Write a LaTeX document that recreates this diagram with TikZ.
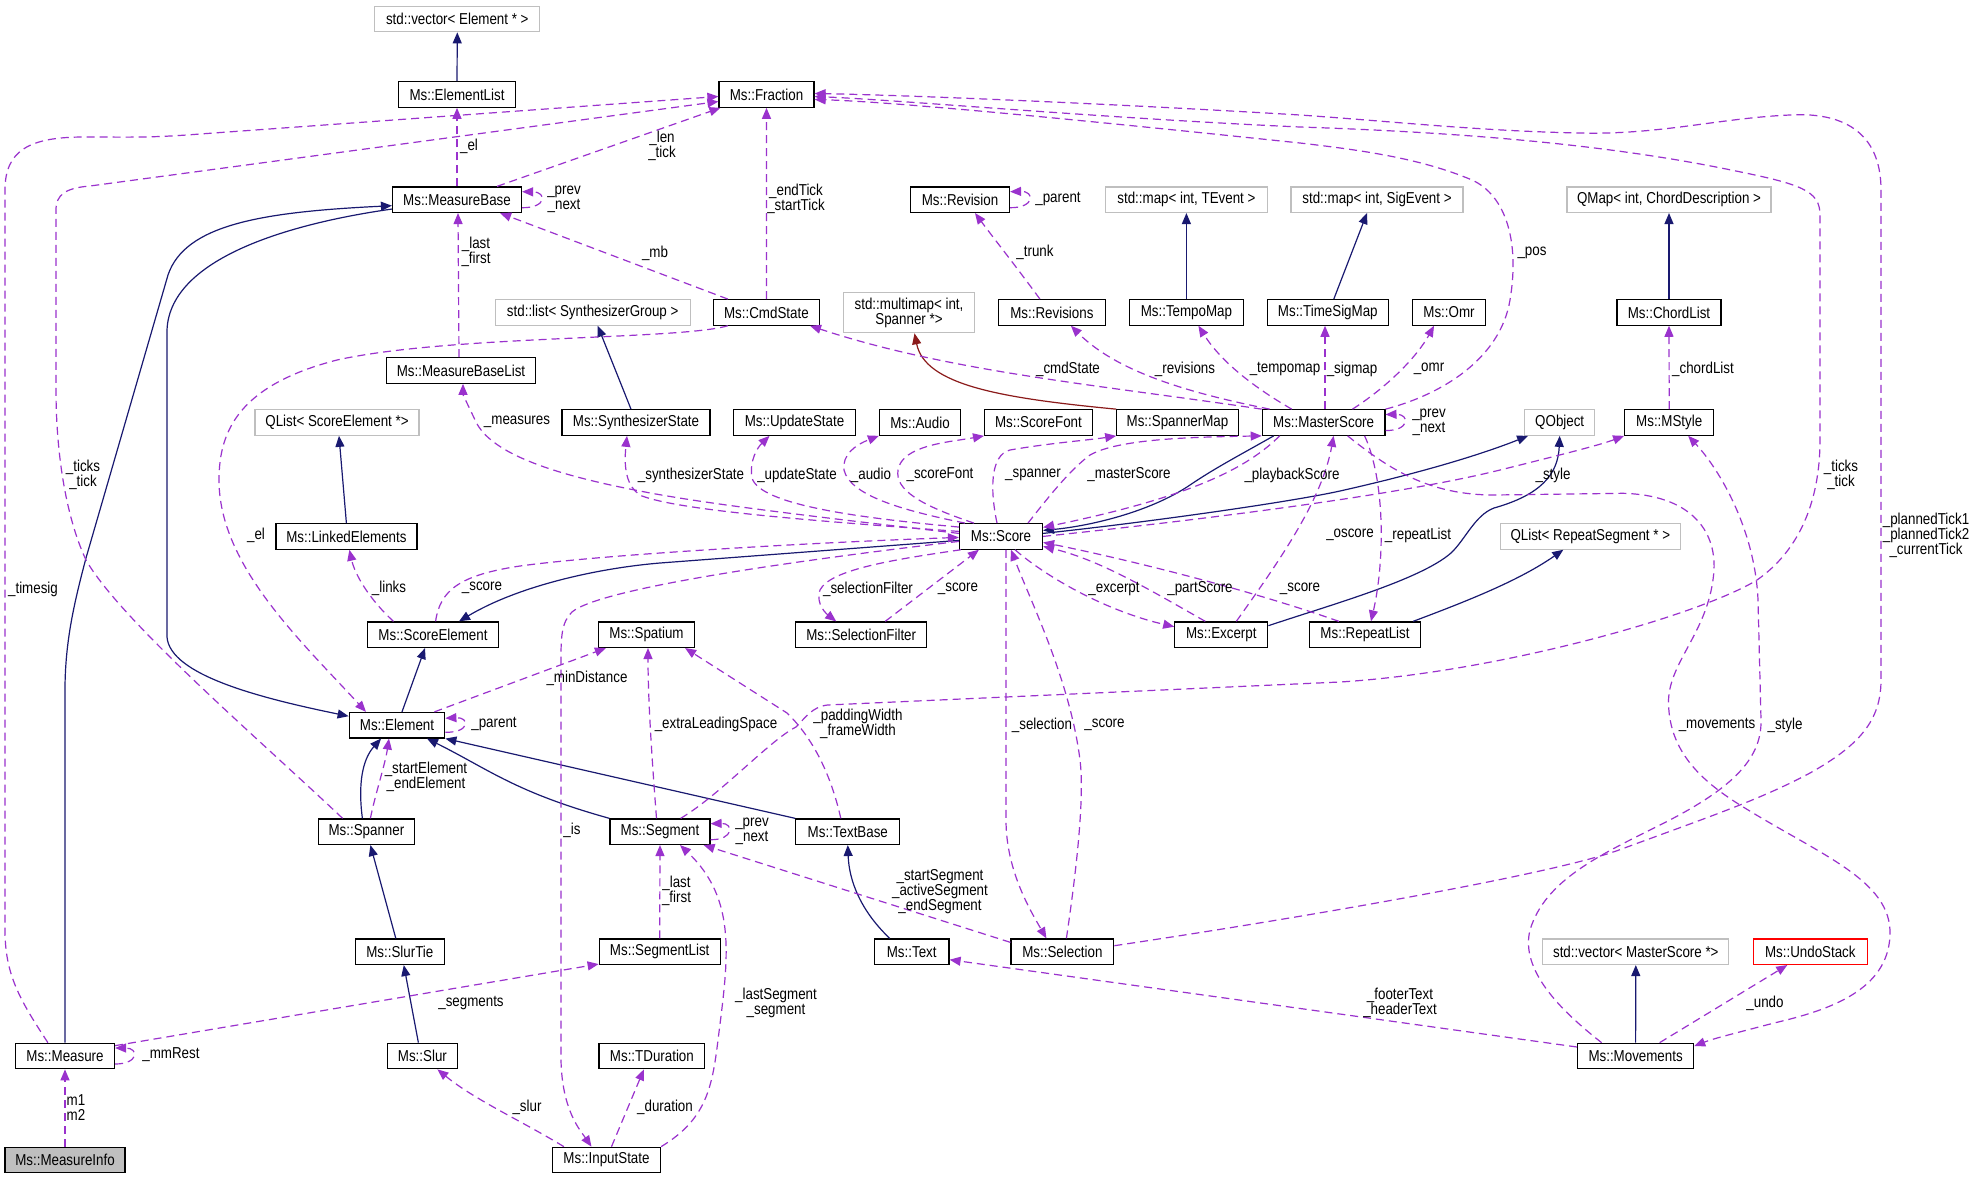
\documentclass[tikz,border=0pt]{standalone}
\usepackage{fontspec}
\setmainfont{Liberation Sans}[FakeStretch=0.845]
\usetikzlibrary{arrows.meta,calc}
\definecolor{navy}{HTML}{191970}
\definecolor{orch}{HTML}{9A32CD}
\definecolor{fbrick}{HTML}{8B1A1A}
\definecolor{ggray}{HTML}{BFBFBF}
\tikzset{
  cls/.style={draw=black,line width=1.2pt,minimum height=25.5,inner sep=0pt,font=\fontsize{15.8}{15}\selectfont,fill=white},
  ext/.style={cls,draw=ggray},
  lbl/.style={inner sep=0pt,align=center,font=\fontsize{15.8}{15}\selectfont},
  inh/.style={draw=navy,line width=1.2pt,-{Triangle[length=11pt,width=9pt]},fill=none},
  dkred/.style={draw=fbrick,line width=1.2pt,-{Triangle[length=11pt,width=9pt]}},
  use/.style={draw=orch,line width=1.2pt,dash pattern=on 8pt off 5pt,-{Triangle[length=11pt,width=9pt,fill=orch]}},
}
\begin{document}
\begin{tikzpicture}[x=1pt,y=-1pt]
\useasboundingbox[fill=white] (0,0) rectangle (1976,1179);
% nodes
\node[ext,minimum width=165] (vecElem) at (457.3,19) {std::vector< Element * >};
\node[cls,minimum width=117] (ElementList) at (457,94.5) {Ms::ElementList};
\node[cls,minimum width=95] (Fraction) at (766.5,94.5) {Ms::Fraction};
\node[cls,minimum width=129] (MeasureBase) at (457,199.7) {Ms::MeasureBase};
\node[cls,minimum width=99] (Revision) at (960,199.7) {Ms::Revision};
\node[ext,minimum width=161.6] (mapTEvent) at (1186.4,199.7) {std::map< int, TEvent >};
\node[ext,minimum width=172] (mapSigEvent) at (1377,199.7) {std::map< int, SigEvent >};
\node[ext,minimum width=204] (QMap) at (1669,199.7) {QMap< int, ChordDescription >};
\node[ext,minimum width=195] (listSynth) at (592.7,312.4) {std::list< SynthesizerGroup >};
\node[cls,minimum width=106] (CmdState) at (766.4,312.4) {Ms::CmdState};
\node[ext,minimum width=131,minimum height=40,align=center,font=\fontsize{15.8}{14}\selectfont] (multimap) at (909,312.7) {std::multimap< int,\\ Spanner *>};
\node[cls,minimum width=106.7] (Revisions) at (1051.9,312.4) {Ms::Revisions};
\node[cls,minimum width=113.4] (TempoMap) at (1186.4,312.4) {Ms::TempoMap};
\node[cls,minimum width=121] (TimeSigMap) at (1327.8,312.4) {Ms::TimeSigMap};
\node[cls,minimum width=73] (Omr) at (1449,312.4) {Ms::Omr};
\node[cls,minimum width=104] (ChordList) at (1669,312.4) {Ms::ChordList};
\node[cls,minimum width=149.4] (MeasureBaseList) at (461,370.5) {Ms::MeasureBaseList};
\node[ext,minimum width=164] (QListSE) at (337,422.5) {QList< ScoreElement *>};
\node[cls,minimum width=148] (SynthState) at (636,422.5) {Ms::SynthesizerState};
\node[cls,minimum width=121.4] (UpdateState) at (794.5,422.5) {Ms::UpdateState};
\node[cls,minimum width=81] (Audio) at (920,422.5) {Ms::Audio};
\node[cls,minimum width=107.6] (ScoreFont) at (1038.4,422.5) {Ms::ScoreFont};
\node[cls,minimum width=121.4] (SpannerMap) at (1177.5,422.5) {Ms::SpannerMap};
\node[cls,minimum width=122.6] (MasterScore) at (1323.6,422.5) {Ms::MasterScore};
\node[ext,minimum width=70] (QObject) at (1559.7,422.5) {QObject};
\node[cls,minimum width=89] (MStyle) at (1669.2,422.5) {Ms::MStyle};
\node[cls,minimum width=141] (LinkedElements) at (346.4,536.4) {Ms::LinkedElements};
\node[cls,minimum width=83] (Score) at (1001,536.4) {Ms::Score};
\node[ext,minimum width=180] (QListRS) at (1590.3,536.4) {QList< RepeatSegment * >};
\node[cls,minimum width=130.5] (ScoreElement) at (433,634.7) {Ms::ScoreElement};
\node[cls,minimum width=96] (Spatium) at (646.5,634.7) {Ms::Spatium};
\node[cls,minimum width=131] (SelectionFilter) at (861.2,634.7) {Ms::SelectionFilter};
\node[cls,minimum width=93] (Excerpt) at (1221.3,634.7) {Ms::Excerpt};
\node[cls,minimum width=111] (RepeatList) at (1365,634.7) {Ms::RepeatList};
\node[cls,minimum width=95.6] (Element) at (397,725.2) {Ms::Element};
\node[cls,minimum width=96.4] (Spanner) at (366.4,831.7) {Ms::Spanner};
\node[cls,minimum width=100] (Segment) at (660,831.7) {Ms::Segment};
\node[cls,minimum width=104] (TextBase) at (847.8,831.7) {Ms::TextBase};
\node[cls,minimum width=89] (SlurTie) at (399.8,951.7) {Ms::SlurTie};
\node[cls,minimum width=121] (SegmentList) at (659.7,951.7) {Ms::SegmentList};
\node[cls,minimum width=74.6] (Text) at (911.7,951.7) {Ms::Text};
\node[cls,minimum width=102.7] (Selection) at (1062.4,951.7) {Ms::Selection};
\node[ext,minimum width=186] (vecMS) at (1635.8,951.7) {std::vector< MasterScore *>};
\node[cls,draw=red,minimum width=114] (UndoStack) at (1810.3,951.7) {Ms::UndoStack};
\node[cls,minimum width=99] (Measure) at (65,1056) {Ms::Measure};
\node[cls,minimum width=70] (Slur) at (422.4,1056) {Ms::Slur};
\node[cls,minimum width=105.7] (TDuration) at (651.9,1056) {Ms::TDuration};
\node[cls,minimum width=116] (Movements) at (1635.6,1056) {Ms::Movements};
\node[cls,fill=ggray,minimum width=120] (MeasureInfo) at (65,1160) {Ms::MeasureInfo};
\node[cls,minimum width=108] (InputState) at (606.5,1160) {Ms::InputState};

% inheritance
\draw[inh] (ElementList.north) -- (vecElem.south);
\draw[inh] (Measure.north) -- (65,690) .. controls (65,640) and (75,600) .. (86,558) -- (168,275) .. controls (185,225) and (260,212) .. ($(MeasureBase.west)+(0,6)$);
\draw[inh] ($(MeasureBase.south west)+(0,-4)$) .. controls (300,222) and (170,255) .. (167,330) -- (167,637) .. controls (170,675) and (260,698) .. ($(Element.west)+(0,-9)$);
\draw[inh] ($(Element.north)+(5,0)$) -- ($(ScoreElement.south)+(-8,0)$);
\draw[inh] ($(Score.west)+(0,4)$) -- (660,563) .. controls (600,568) and (520,585) .. ($(ScoreElement.north)+(26,0)$);
\draw[inh] ($(MasterScore.south west)+(12,0)$) .. controls (1240,455) and (1215,468) .. (1190,485) .. controls (1150,512) and (1090,526) .. ($(Score.east)+(0,-6)$);
\draw[inh] ($(Score.east)+(0,-3)$) .. controls (1150,522) and (1290,502) .. (1340,491) .. controls (1420,473) and (1480,455) .. ($(QObject.south west)+(4,0)$);
\draw[inh] ($(Excerpt.east)+(0,-9)$) .. controls (1330,605) and (1420,580) .. (1451,553) .. controls (1465,540) and (1475,515) .. (1494,508) .. controls (1540,495) and (1558,475) .. (QObject.south);
\draw[inh] ($(RepeatList.north east)+(-8,0)$) .. controls (1470,600) and (1520,580) .. ($(QListRS.south)+(-27,0)$);
\draw[inh] (LinkedElements.north) -- ($(QListSE.south)+(2,0)$);
\draw[inh] ($(SynthState.north)+(-5,0)$) -- ($(listSynth.south)+(5,0)$);
\draw[dkred] (SpannerMap.north west) .. controls (1000,398) and (925,385) .. ($(multimap.south)+(5.5,0)$);
\draw[inh] (TempoMap.north) -- (mapTEvent.south);
\draw[inh] ($(TimeSigMap.north)+(6,0)$) -- ($(mapSigEvent.south)+(-10,0)$);
\draw[inh] (ChordList.north) -- (QMap.south);
\draw[inh] ($(Spanner.north)+(-4,0)$) .. controls (358,785) and (362,760) .. ($(Element.south)+(-16,0)$);
\draw[inh] (Segment.north west) .. controls (515,792) and (490,770) .. ($(Element.south)+(30,0)$);
\draw[inh] (TextBase.north west) -- (Element.south east);
\draw[inh] ($(SlurTie.north)+(-4,0)$) -- ($(Spanner.south)+(4,0)$);
\draw[inh] ($(Slur.north)+(-4,0)$) -- ($(SlurTie.south)+(4,0)$);
\draw[inh] ($(Text.north)+(-22,0)$) .. controls (860,910) and (849,880) .. (TextBase.south);
\draw[inh] (Movements.north) -- (vecMS.south);

% usage
\draw[use] (MeasureBase.north) -- (ElementList.south);
\draw[use] ($(MeasureBase.north east)+(-25,0)$) -- ($(Fraction.south west)+(2,0)$);
\draw[use] ($(MeasureBase.east)+(0,8)$) .. controls (547,208) and (547,192) .. ($(MeasureBase.east)+(0,-8)$);
\draw[use] ($(CmdState.north west)+(15,0)$) -- ($(MeasureBase.south east)+(-22,0)$);
\draw[use] (CmdState.north) -- (Fraction.south);
\draw[use] ($(MeasureBaseList.north)+(-2,0)$) -- ($(MeasureBase.south)+(1,0)$);
\draw[use] ($(Measure.north west)+(33,0)$) .. controls (20,1000) and (5,975) .. (5,930) -- (5,190) .. controls (5,150) and (30,137) .. (84,137) .. controls (130,137) and (150,138) .. (200,134) -- ($(Fraction.west)+(0,2)$);
\draw[use] ($(Spanner.north west)+(25,0)$) .. controls (260,740) and (120,620) .. (86,560) .. controls (65,515) and (56,450) .. (56,390) -- (56,210) .. controls (56,195) and (65,188) .. (90,186) -- ($(Fraction.west)+(0,7)$);
\draw[use] ($(CmdState.south west)+(15,0)$) .. controls (680,340) and (450,335) .. (337,360) .. controls (240,385) and (219,430) .. (219,480) .. controls (219,565) and (300,640) .. ($(Element.north)+(-31,0)$);
\draw[use] ($(ScoreElement.north)+(-39.5,0)$) .. controls (370,600) and (355,575) .. ($(LinkedElements.south)+(3,0)$);
\draw[use] ($(ScoreElement.north)+(2.6,0)$) .. controls (440,590) and (460,575) .. (520,566) .. controls (600,555) and (800,543) .. ($(Score.west)+(0,1)$);
\draw[use] ($(Element.north east)+(-11,0)$) -- ($(Spatium.south west)+(8,0)$);
\draw[use] ($(Element.east)+(0,7)$) .. controls (470,733) and (470,717) .. ($(Element.east)+(0,-7)$);
\draw[use] ($(Spanner.north)+(4,0)$) .. controls (375,795) and (385,765) .. ($(Element.south)+(-8,0)$);
\draw[use] ($(Segment.north)+(-3.5,0)$) .. controls (652,760) and (648,700) .. ($(Spatium.south)+(1.5,0)$);
\draw[use] ($(TextBase.north)+(-7,0)$) .. controls (830,770) and (810,735) .. (787,713) -- ($(Spatium.south east)+(-10,0)$);
\draw[use] ($(Segment.north east)+(-30,0)$) .. controls (720,795) and (770,740) .. (796,727) .. controls (806,717) and (812,707) .. (827.5,705) -- (1340,682) .. controls (1500,672) and (1700,615) .. (1757,580) .. controls (1800,550) and (1820,500) .. (1820,440) -- (1820,215) .. controls (1820,190) and (1800,184) .. (1731,170) .. controls (1600,143) and (1450,132) .. (1300,127) .. controls (1100,118) and (900,100) .. ($(Fraction.east)+(0,2)$);
\draw[use] ($(Selection.east)+(0,-6)$) .. controls (1300,918) and (1550,875) .. (1619,850) .. controls (1700,820) and (1760,800) .. (1810,773) .. controls (1860,745) and (1881,720) .. (1881,680) -- (1881,190) .. controls (1881,130) and (1840,112) .. (1790,115) .. controls (1720,118) and (1660,135) .. (1580,133) .. controls (1480,131) and (1400,122) .. (1300,115) .. controls (1100,103) and (900,95) .. ($(Fraction.east)+(0,-1)$);
\draw[use] (MasterScore.north east) .. controls (1440,395) and (1500,360) .. (1510,300) .. controls (1520,240) and (1505,195) .. (1472,180) .. controls (1420,158) and (1360,150) .. (1300,143) .. controls (1100,122) and (900,102) .. ($(Fraction.east)+(0,5)$);
\draw[use] ($(Revisions.north)+(-12,0)$) .. controls (1015,265) and (995,240) .. ($(Revision.south)+(15,0)$);
\draw[use] ($(Revision.east)+(0,8)$) .. controls (1035,208) and (1035,191) .. ($(Revision.east)+(0,-8)$);
\draw[use] (MasterScore.north west) .. controls (1100,385) and (950,372) .. ($(CmdState.south east)+(-10,0)$);
\draw[use] ($(MasterScore.north west)+(8,0)$) .. controls (1200,395) and (1120,375) .. ($(Revisions.south)+(19,0)$);
\draw[use] ($(MasterScore.north west)+(30,0)$) .. controls (1250,385) and (1220,360) .. ($(TempoMap.south)+(12,0)$);
\draw[use] ($(MasterScore.north)+(1.4,0)$) -- ($(TimeSigMap.south)+(-2.8,0)$);
\draw[use] ($(MasterScore.north east)+(-33,0)$) .. controls (1390,385) and (1418,355) .. ($(Omr.south)+(-15,0)$);
\draw[use] (MStyle.north) -- (ChordList.south);
\draw[use] ($(MasterScore.east)+(0,8)$) .. controls (1410,431) and (1410,414) .. ($(MasterScore.east)+(0,-8)$);
\draw[use] ($(Score.west)+(0,-5)$) .. controls (800,520) and (680,510) .. (642,496) .. controls (625,487) and (624,465) .. ($(SynthState.south)+(-9,0)$);
\draw[use] ($(Score.north west)+(0,4)$) .. controls (860,518) and (760,505) .. (752,478) .. controls (749,460) and (758,447) .. ($(UpdateState.south)+(-25,0)$);
\draw[use] ($(Score.north west)+(6,0)$) .. controls (900,510) and (850,495) .. (844,470) .. controls (842,455) and (855,445) .. (Audio.south west);
\draw[use] ($(Score.north west)+(15,0)$) .. controls (920,505) and (895,490) .. (898,470) .. controls (902,445) and (950,442) .. (ScoreFont.south west);
\draw[use] ($(Score.north)+(-4,0)$) .. controls (990,490) and (990,455) .. (1010,450) .. controls (1050,443) and (1090,440) .. (SpannerMap.south west);
\draw[use] ($(Score.north)+(27,0)$) .. controls (1050,495) and (1070,470) .. (1090,455) .. controls (1120,438) and (1200,437) .. (MasterScore.south west);
\draw[use] ($(MasterScore.south west)+(18,0)$) .. controls (1250,465) and (1200,495) .. ($(Score.east)+(0,-9)$);
\draw[use] ($(Score.west)+(0,-3)$) .. controls (800,515) and (700,503) .. (640,491) .. controls (540,472) and (490,450) .. (476,422) .. controls (468,405) and (463,395) .. ($(MeasureBaseList.south)+(2,0)$);
\draw[use] (Score.east) .. controls (1200,520) and (1400,495) .. (1500,470) .. controls (1560,455) and (1600,445) .. (MStyle.south west);
\draw[use] ($(Score.south west)+(2,0)$) .. controls (890,560) and (830,570) .. (820,590) .. controls (815,605) and (828,615) .. ($(SelectionFilter.north)+(-25,0)$);
\draw[use] ($(SelectionFilter.north)+(24,0)$) -- ($(Score.south west)+(20,0)$);
\draw[use] ($(Score.south)+(14,0)$) .. controls (1050,580) and (1110,612) .. ($(Excerpt.west)+(0,-8)$);
\draw[use] ($(Excerpt.north)+(-16,0)$) .. controls (1150,590) and (1100,560) .. ($(Score.east)+(0,10)$);
\draw[use] ($(RepeatList.north west)+(30,0)$) .. controls (1250,590) and (1130,560) .. ($(Score.east)+(0,6)$);
\draw[use] ($(Excerpt.north)+(15,0)$) .. controls (1280,560) and (1322,500) .. ($(MasterScore.south)+(10,0)$);
\draw[use] ($(MasterScore.south)+(41,0)$) .. controls (1385,480) and (1385,560) .. ($(RepeatList.north)+(6,0)$);
\draw[use] ($(Score.south)+(5,0)$) -- (1006,820) .. controls (1006,870) and (1030,910) .. ($(Selection.north)+(-16,0)$);
\draw[use] ($(Selection.north)+(4,0)$) .. controls (1075,880) and (1085,800) .. (1080,760) .. controls (1070,680) and (1030,600) .. ($(Score.south)+(10,0)$);
\draw[use] ($(Score.west)+(0,5)$) .. controls (800,560) and (600,588) .. (572,612) .. controls (561,622) and (561,640) .. (561,660) -- (561,1060) .. controls (562,1110) and (580,1130) .. ($(InputState.north)+(-15,0)$);
\draw[use] (SegmentList.north) -- (Segment.south);
\draw[use] ($(Segment.east)+(0,8)$) .. controls (734,840) and (734,823) .. ($(Segment.east)+(0,-8)$);
\draw[use] ($(Selection.north west)+(0,4)$) -- ($(Segment.south east)+(-7,0)$);
\draw[use] (InputState.north east) .. controls (705,1120) and (712,1090) .. (718,1040) .. controls (728,960) and (738,900) .. ($(Segment.south)+(20,0)$);
\draw[use] ($(Measure.north east)+(0,3)$) -- ($(SegmentList.south west)+(0,-1)$);
\draw[use] ($(Measure.east)+(0,8)$) .. controls (139,1064) and (139,1048) .. ($(Measure.east)+(0,-8)$);
\draw[use] (MeasureInfo.north) -- (Measure.south);
\draw[use] ($(InputState.north west)+(12,0)$) .. controls (520,1120) and (475,1100) .. ($(Slur.south)+(15,0)$);
\draw[use] ($(InputState.north)+(5,0)$) -- ($(TDuration.south)+(-8,0)$);
\draw[use] ($(Movements.west)+(0,-9)$) -- ($(Text.east)+(0,8)$);
\draw[use] ($(Movements.north)+(24,0)$) -- ($(UndoStack.south)+(-23,0)$);
\draw[use] ($(MasterScore.south)+(24,0)$) .. controls (1390,470) and (1430,495) .. (1494,495) -- (1623,493.3) .. controls (1690,495) and (1716,530) .. (1714,570) .. controls (1710,630) and (1670,660) .. (1668.5,700) .. controls (1668,750) and (1700,780) .. (1740,805) .. controls (1820,855) and (1892,880) .. (1890,935) .. controls (1888,990) and (1830,1010) .. (1774,1023) .. controls (1740,1032) and (1715,1038) .. ($(Movements.east)+(0,-10)$);
\draw[use] ($(Movements.north)+(-34,0)$) .. controls (1560,1010) and (1520,970) .. (1530,930) .. controls (1545,880) and (1600,855) .. (1660,825) .. controls (1730,790) and (1762,760) .. (1761,720) -- (1758,600) .. controls (1755,530) and (1720,470) .. ($(MStyle.south)+(19,0)$);

% labels
\node[lbl] (l01) at (469,146) {\_el};
\node[lbl] (l02) at (662,145.5) {\_len\\\_tick};
\node[lbl] (l03) at (564,199) {\_prev\\\_next};
\node[lbl] (l04) at (655,253) {\_mb};
\node[lbl] (l05) at (796,199) {\_endTick\\\_startTick};
\node[lbl] (l06) at (476,252) {\_last\\\_first};
\node[lbl] (l07) at (33,589) {\_timesig};
\node[lbl] (l08) at (83,474.5) {\_ticks\\\_tick};
\node[lbl] (l09) at (256,535) {\_el};
\node[lbl] (l10) at (389,588) {\_links};
\node[lbl] (l11) at (482,588) {\_score};
\node[lbl] (l12) at (587,678) {\_minDistance};
\node[lbl] (l13) at (494,724) {\_parent};
\node[lbl] (l14) at (426,777) {\_startElement\\\_endElement};
\node[lbl] (l15) at (716,724) {\_extraLeadingSpace};
\node[lbl] (l16) at (858,724) {\_paddingWidth\\\_frameWidth};
\node[lbl] (l17) at (1841,474.5) {\_ticks\\\_tick};
\node[lbl] (l18) at (1926,535) {\_plannedTick1\\\_plannedTick2\\\_currentTick};
\node[lbl] (l19) at (1532,253) {\_pos};
\node[lbl] (l20) at (1035,252) {\_trunk};
\node[lbl] (l21) at (1058,199) {\_parent};
\node[lbl] (l22) at (1068,369) {\_cmdState};
\node[lbl] (l23) at (1185,369) {\_revisions};
\node[lbl] (l24) at (1285,369) {\_tempomap};
\node[lbl] (l25) at (1352,369) {\_sigmap};
\node[lbl] (l26) at (1429,369) {\_omr};
\node[lbl] (l27) at (1703,369) {\_chordList};
\node[lbl] (l28) at (1429,422) {\_prev\\\_next};
\node[lbl] (l29) at (691,475) {\_synthesizerState};
\node[lbl] (l30) at (797,475) {\_updateState};
\node[lbl] (l31) at (871,475) {\_audio};
\node[lbl] (l32) at (940,475) {\_scoreFont};
\node[lbl] (l33) at (1033,475) {\_spanner};
\node[lbl] (l34) at (1129,475) {\_masterScore};
\node[lbl] (l35) at (1292,475) {\_playbackScore};
\node[lbl] (l36) at (517,422) {\_measures};
\node[lbl] (l37) at (1553,475) {\_style};
\node[lbl] (l38) at (868,589) {\_selectionFilter};
\node[lbl] (l39) at (958,589) {\_score};
\node[lbl] (l40) at (1114,589) {\_excerpt};
\node[lbl] (l41) at (1200,589) {\_partScore};
\node[lbl] (l42) at (1300,589) {\_score};
\node[lbl] (l43) at (1350,535) {\_oscore};
\node[lbl] (l44) at (1418,535) {\_repeatList};
\node[lbl] (l45) at (1042,725) {\_selection};
\node[lbl] (l46) at (1104.5,725) {\_score};
\node[lbl] (l47) at (572,830) {\_is};
\node[lbl] (l48) at (676.5,891) {\_last\\\_first};
\node[lbl] (l49) at (752,831) {\_prev\\\_next};
\node[lbl] (l50) at (940,892) {\_startSegment\\\_activeSegment\\\_endSegment};
\node[lbl] (l51) at (776,1003) {\_lastSegment\\\_segment};
\node[lbl] (l52) at (471,1002.7) {\_segments};
\node[lbl] (l53) at (171,1055) {\_mmRest};
\node[lbl] (l54) at (76,1107.5) {m1\\m2};
\node[lbl] (l55) at (527,1107) {\_slur};
\node[lbl] (l56) at (665,1107) {\_duration};
\node[lbl] (l57) at (1400,1002.5) {\_footerText\\\_headerText};
\node[lbl] (l58) at (1765,1003) {\_undo};
\node[lbl] (l59) at (1717,725) {\_movements};
\node[lbl] (l60) at (1785,725) {\_style};
\end{tikzpicture}
\end{document}
